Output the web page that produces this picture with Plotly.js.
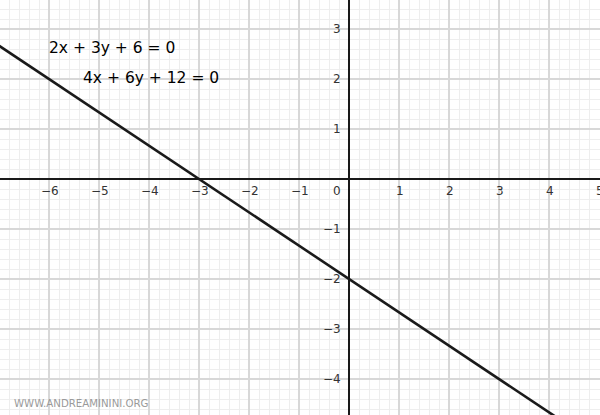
<!DOCTYPE html>
<html>
<head>
<meta charset="utf-8">
<script src="https://cdn.plot.ly/plotly-3.0.1.min.js"></script>
<style>
html,body{margin:0;padding:0;background:#fff;}
#chart{width:600px;height:415px;}
</style>
</head>
<body>
<div id="chart"></div>
<script>
// Data
const lineX = [-7, 5];
const lineY = [2.667, -5.333];
const xTickVals = [-6, -5, -4, -3, -2, -1, 1, 2, 3, 4, 5];
const xTickLabels = ["\u22126", "\u22125", "\u22124", "\u22123", "\u22122", "\u22121", "1", "2", "3", "4", "5"];
const yTickVals = [3, 2, 1, -1, -2, -3, -4];
const yTickLabels = ["3", "2", "1", "\u22121", "\u22122", "\u22123", "\u22124"];
const equations = ["2x + 3y + 6 = 0", "4x + 6y + 12 = 0"];
const eqX = [-6.04, -5.36];
const eqY = [2.62, 2.02];
const watermark = "WWW.ANDREAMININI.ORG";

const tickFont = {family: "DejaVu Sans, sans-serif", size: 12, color: "#333333"};
const annotations = [];
xTickVals.forEach((v, i) => {
  annotations.push({x: v, y: 0, xref: "x", yref: "y", text: xTickLabels[i], showarrow: false,
    xanchor: "center", yanchor: "middle", yshift: -12, xshift: 1, font: tickFont});
});
yTickVals.forEach((v, i) => {
  annotations.push({x: 0, y: v, xref: "x", yref: "y", text: yTickLabels[i], showarrow: false,
    xanchor: "right", yanchor: "middle", xshift: -6, font: tickFont});
});
annotations.push({x: 0, y: 0, xref: "x", yref: "y", text: "0", showarrow: false,
  xanchor: "center", yanchor: "middle", xshift: -12, yshift: -12, font: tickFont});
equations.forEach((t, i) => {
  annotations.push({x: eqX[i], y: eqY[i], xref: "x", yref: "y", text: t, showarrow: false,
    xanchor: "left", yanchor: "middle", font: {family: "DejaVu Sans, sans-serif", size: 15.5, color: "#000000"}});
});
annotations.push({x: 12 / 600, y: 1 - 403 / 415, xref: "paper", yref: "paper", text: watermark, showarrow: false,
  xanchor: "left", yanchor: "middle", font: {family: "DejaVu Sans, sans-serif", size: 10.2, color: "#9a9a9a"}});

const trace = {
  x: lineX, y: lineY, mode: "lines", type: "scatter",
  line: {color: "#1a1a1a", width: 2.6}, hoverinfo: "skip"
};

const axisCommon = {
  showgrid: true, gridcolor: "#d8d8d8", gridwidth: 2,
  dtick: 1, tick0: 0,
  minor: {dtick: 0.2, showgrid: true, gridcolor: "#eeeeee", gridwidth: 1},
  zeroline: true, zerolinecolor: "#1a1a1a", zerolinewidth: 1.2,
  showticklabels: false, ticks: "", showline: false, fixedrange: true
};

const layout = {
  width: 600, height: 415,
  margin: {l: 0, r: 0, t: 0, b: 0},
  paper_bgcolor: "#ffffff", plot_bgcolor: "#ffffff",
  showlegend: false,
  xaxis: Object.assign({}, axisCommon, {range: [-6.98, 5.02]}),
  yaxis: Object.assign({}, axisCommon, {range: [-4.72, 3.58]}),
  annotations: annotations
};

Plotly.newPlot("chart", [trace], layout, {staticPlot: true, displayModeBar: false});
</script>
</body>
</html>
